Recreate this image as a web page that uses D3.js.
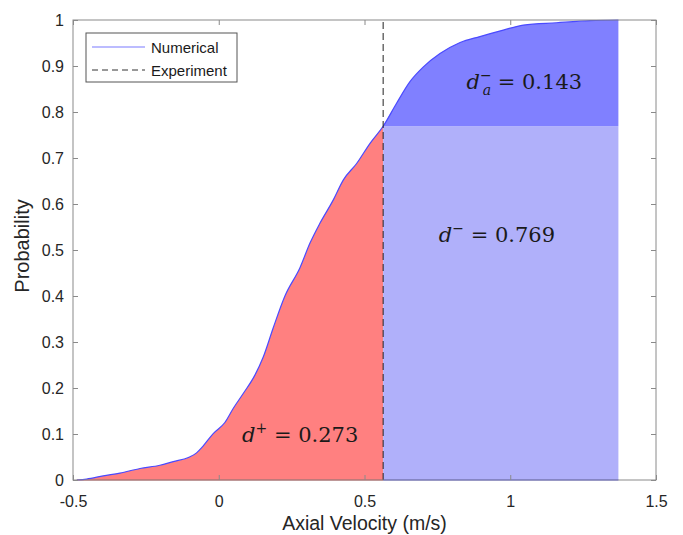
<!DOCTYPE html>
<html>
<head>
<meta charset="utf-8">
<script src="https://cdn.jsdelivr.net/npm/d3@7"></script>
<style>
  html, body { margin: 0; padding: 0; background: #fff; }
  svg { display: block; }
  .axis-title { font-family: "Liberation Sans", Arial, sans-serif; fill: #262626; }
  .math { font-family: "DejaVu Serif", "Liberation Serif", serif; fill: #1a1a1a; }
</style>
</head>
<body>
<svg id="chart" width="683" height="535"></svg>
<script>
// Simulated axial-velocity CDF (numerical) and the measured value (experiment)
const velocity = [-0.487, -0.453, -0.396, -0.339, -0.270, -0.202, -0.156, -0.104, -0.076, -0.056,
  -0.019, 0.021, 0.050, 0.084, 0.124, 0.153, 0.187, 0.227, 0.279, 0.313, 0.347, 0.393,
  0.427, 0.473, 0.519, 0.564, 0.610, 0.656, 0.702, 0.759, 0.828, 0.896, 0.976, 1.045, 1.159,
  1.274, 1.371];
const probability = [0.000, 0.002, 0.009, 0.015, 0.025, 0.032, 0.040, 0.049, 0.059, 0.072,
  0.101, 0.125, 0.156, 0.188, 0.228, 0.268, 0.331, 0.400, 0.462, 0.515, 0.558, 0.609,
  0.652, 0.688, 0.732, 0.769, 0.819, 0.866, 0.898, 0.927, 0.951, 0.964, 0.978, 0.989, 0.994,
  0.9985, 1.000];
const experiment = 0.564;

const xTicks = [-0.5, 0, 0.5, 1, 1.5];
const yTicks = [0, 0.1, 0.2, 0.3, 0.4, 0.5, 0.6, 0.7, 0.8, 0.9, 1];

const dPlus = "0.273", dMinus = "0.769", dMinusA = "0.143";
const seriesNames = ["Numerical", "Experiment"];

const svg = d3.select("#chart");
const margin = { left: 73, right: 27, top: 20, bottom: 55 };
const W = 683, H = 535;

const x = d3.scaleLinear().domain([-0.5, 1.5]).range([margin.left, W - margin.right]);
const y = d3.scaleLinear().domain([0, 1]).range([H - margin.bottom, margin.top]);

const pts = velocity.map((v, i) => ({ v, p: probability[i] }));
const pExp = probability[velocity.indexOf(experiment)];
const left = pts.filter(d => d.v <= experiment);
const right = pts.filter(d => d.v >= experiment);
const vEnd = velocity[velocity.length - 1];
const curve = d3.curveMonotoneX;

// d+ region: under the curve up to the experimental value
svg.append("path")
  .datum(left)
  .attr("d", d3.area().curve(curve).x(d => x(d.v)).y0(y(0)).y1(d => y(d.p)))
  .attr("fill", "#ff8080");

// d- region: rectangle below the CDF value at the experiment
svg.append("rect")
  .attr("x", x(experiment)).attr("y", y(pExp))
  .attr("width", x(vEnd) - x(experiment)).attr("height", y(0) - y(pExp))
  .attr("fill", "#b0b0fa");

// d-_a region: between the curve and that value
svg.append("path")
  .datum(right)
  .attr("d", d3.area().curve(curve).x(d => x(d.v)).y0(y(pExp)).y1(d => y(d.p)))
  .attr("fill", "#8080ff");

// baseline edges of the filled regions
svg.append("line")
  .attr("x1", x(velocity[0])).attr("x2", x(experiment))
  .attr("y1", y(0)).attr("y2", y(0))
  .attr("stroke", "#e85050").attr("stroke-width", 1.2);
svg.append("line")
  .attr("x1", x(experiment)).attr("x2", x(vEnd))
  .attr("y1", y(0)).attr("y2", y(0))
  .attr("stroke", "#5050ff").attr("stroke-width", 1.2);

// numerical CDF line
svg.append("path")
  .datum(pts)
  .attr("d", d3.line().curve(curve).x(d => x(d.v)).y(d => y(d.p)))
  .attr("fill", "none")
  .attr("stroke", "#4a4aff")
  .attr("stroke-width", 1.2);

// experimental value
svg.append("line")
  .attr("x1", x(experiment)).attr("x2", x(experiment))
  .attr("y1", y(0)).attr("y2", y(1))
  .attr("stroke", "#222").attr("stroke-width", 1)
  .attr("stroke-dasharray", "7,4");

// axes: ticks inside on all four sides
const axisColor = "#8a8a8a";
const tickLen = 5;
svg.append("rect")
  .attr("x", x(-0.5)).attr("y", y(1))
  .attr("width", x(1.5) - x(-0.5)).attr("height", y(0) - y(1))
  .attr("fill", "none").attr("stroke", axisColor).attr("stroke-width", 1);

const fmt = d => String(d);
const gB = svg.append("g").attr("transform", `translate(0,${y(0)})`)
  .call(d3.axisBottom(x).tickValues(xTicks).tickSize(-tickLen).tickPadding(16).tickFormat(fmt));
const gT = svg.append("g").attr("transform", `translate(0,${y(1)})`)
  .call(d3.axisTop(x).tickValues(xTicks).tickSize(-tickLen).tickFormat(""));
const gL = svg.append("g").attr("transform", `translate(${x(-0.5)},0)`)
  .call(d3.axisLeft(y).tickValues(yTicks).tickSize(-tickLen).tickPadding(9).tickFormat(fmt));
const gR = svg.append("g").attr("transform", `translate(${x(1.5)},0)`)
  .call(d3.axisRight(y).tickValues(yTicks).tickSize(-tickLen).tickFormat(""));

[gB, gT, gL, gR].forEach(g => {
  g.attr("font-family", "Liberation Sans, Arial, sans-serif").attr("font-size", 16);
  g.select(".domain").remove();
  g.selectAll(".tick line").attr("stroke", axisColor);
  g.selectAll(".tick text").attr("fill", "#262626");
});

// axis titles
svg.append("text").attr("class", "axis-title")
  .attr("x", x(0.5)).attr("y", 530)
  .attr("text-anchor", "middle").attr("font-size", 19.5)
  .text("Axial Velocity (m/s)");
svg.append("text").attr("class", "axis-title")
  .attr("transform", `translate(29,${y(0.5) - 4}) rotate(-90)`)
  .attr("text-anchor", "middle").attr("font-size", 20)
  .text("Probability");

// region annotations
function mathLabel(px, py, sup, sub, value) {
  const t = svg.append("text").attr("class", "math").attr("x", px).attr("y", py)
    .attr("font-size", 21);
  t.append("tspan").attr("font-style", "italic").text("d");
  t.append("tspan").attr("font-size", 14).attr("dy", -9).text(sup);
  if (sub) {
    t.append("tspan").attr("font-size", 14).attr("font-style", "italic")
      .attr("dx", -9).attr("dy", 15).text(sub);
    t.append("tspan").attr("dy", -6).text(" = " + value);
  } else {
    t.append("tspan").attr("dy", 9).text(" = " + value);
  }
}
mathLabel(x(0.08), y(0.083), "+", null, dPlus);
mathLabel(x(0.755), y(0.517), "\u2212", null, dMinus);
mathLabel(x(0.85), y(0.85), "\u2212", "a", dMinusA);

// legend
const lg = svg.append("g").attr("transform", "translate(86,33)");
lg.append("rect").attr("width", 151).attr("height", 49)
  .attr("fill", "#fff").attr("stroke", "#555").attr("stroke-width", 1);
lg.append("line").attr("x1", 6).attr("x2", 59).attr("y1", 14).attr("y2", 14)
  .attr("stroke", "#7a7aff").attr("stroke-width", 1.2);
lg.append("line").attr("x1", 6).attr("x2", 59).attr("y1", 37).attr("y2", 37)
  .attr("stroke", "#333").attr("stroke-width", 1).attr("stroke-dasharray", "6,4");
lg.selectAll("text.leg").data(seriesNames).join("text")
  .attr("class", "leg")
  .attr("x", 65).attr("y", (d, i) => 19.5 + i * 23)
  .attr("font-family", "Liberation Sans, Arial, sans-serif")
  .attr("font-size", 15).attr("fill", "#1a1a1a")
  .text(d => d);
</script>
</body>
</html>
